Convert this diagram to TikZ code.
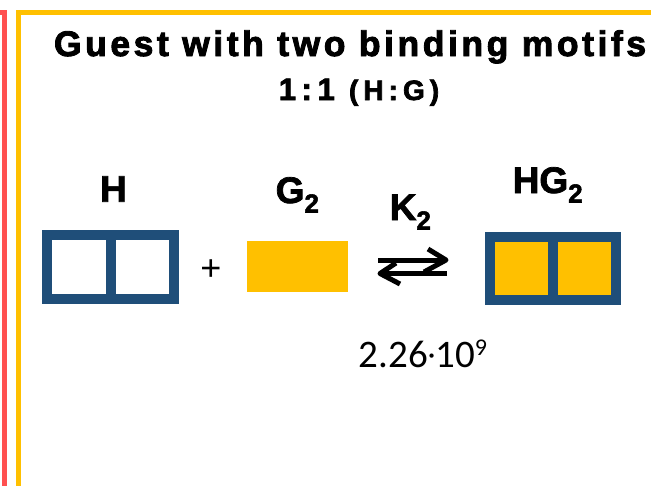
\documentclass[tikz,border=0pt]{standalone}
\usepackage{fontspec}
\setmainfont{Liberation Sans}
\newfontfamily\titlefont[LetterSpace=10,FakeBold=2.5]{Liberation Sans}
\newfontfamily\ratiofont[LetterSpace=18,FakeBold=2.5]{Liberation Sans}
\newfontfamily\lblfont[FakeBold=2]{Liberation Sans}
\newfontfamily\numfont{Carlito}
\definecolor{hostblue}{HTML}{1F4E79}
\definecolor{gold}{HTML}{FFC000}
\definecolor{redline}{HTML}{FF5050}
\tikzset{
  hostbox/.style={draw=hostblue, line width=10pt, inner sep=0pt, rectangle},
  guestbox/.style={fill=gold, inner sep=0pt, rectangle},
  lbl/.style={inner sep=0pt, font=\lblfont\bfseries\fontsize{37pt}{40pt}\selectfont},
  eqarrow/.style={line width=5pt, line join=round, line cap=butt},
}
\newcommand{\subtwo}{\raisebox{-9.5pt}{\fontsize{26pt}{28pt}\selectfont 2}}
\begin{document}
\begin{tikzpicture}[x=1pt,y=-1pt]
\useasboundingbox[fill=white] (0,0) rectangle (651,485);
% frames
\draw[redline, line width=5pt] (-20,12.5) -- (4.5,12.5) -- (4.5,500);
\draw[gold, line width=5pt] (18.5,500) -- (18.5,12.5) -- (670,12.5);
% title
\node[inner sep=0pt, anchor=base, font=\titlefont\bfseries\fontsize{35.5pt}{40pt}\selectfont] (title) at (350,56) {Guest with two binding motifs};
\node[inner sep=0pt, anchor=base, font=\ratiofont\bfseries] (ratio) at (359,100) {\fontsize{31pt}{33pt}\selectfont 1:1 \fontsize{28pt}{30pt}\selectfont(H:G)};
% host
\node[hostbox, minimum width=126.7pt, minimum height=64pt] (H) at (110.7,267) {};
\draw[hostblue, line width=10pt] (H.north) -- (H.south);
% guest
\node[guestbox, minimum width=101pt, minimum height=51.3pt] (G) at (297.8,266.7) {};
% complex
\node[hostbox, fill=gold, minimum width=126pt, minimum height=62.7pt] (HG) at (553,268.7) {};
\draw[hostblue, line width=10pt] (HG.north) -- (HG.south);
% labels
\node[lbl, anchor=base] (Hl) at (113.5,201.7) {H};
\node[lbl, anchor=base west] (Gl) at (275.5,203) {G\subtwo};
\node[lbl, anchor=base west] (Kl) at (389.5,220) {K\subtwo};
\node[lbl, anchor=base west] (HGl) at (512.5,193) {HG\subtwo};
\node[inner sep=0pt, font=\fontsize{36pt}{40pt}\selectfont] (plus) at (211,270) {+};
% equilibrium arrows
\draw[eqarrow] (378,260) -- (446,260);
\draw[eqarrow] (428,249) -- (446,260) -- (424,272);
\draw[eqarrow] (447,273.5) -- (380,273.5);
\draw[eqarrow] (396,263) -- (380,273.5) -- (400,284);
% constant
\node[inner sep=0pt, anchor=base west, font=\numfont\fontsize{39pt}{42pt}\selectfont] (K) at (358.5,367) {2.26\raisebox{2.5pt}{\fontsize{30pt}{30pt}\selectfont ·}10\raisebox{12pt}{\fontsize{24pt}{26pt}\selectfont 9}};
\end{tikzpicture}
\end{document}
